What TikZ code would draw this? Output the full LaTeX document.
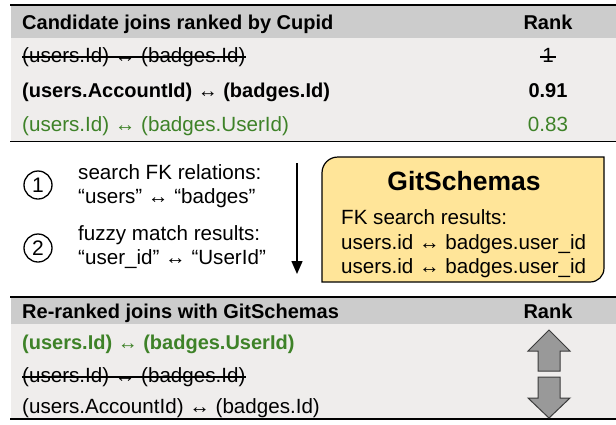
\documentclass[tikz,border=0pt]{standalone}
\usepackage{fontspec}
\setmainfont{Liberation Sans}
\usetikzlibrary{arrows.meta}
\definecolor{hdr}{RGB}{204,204,204}
\definecolor{bodybg}{RGB}{239,237,236}
\definecolor{grn}{RGB}{62,130,40}
\definecolor{boxfill}{RGB}{255,229,153}
\definecolor{arrfill}{RGB}{153,153,153}
\definecolor{arrline}{RGB}{60,60,60}
\newcommand{\rowfont}{\fontsize{20.6}{24}\selectfont}
\newcommand{\hdrfont}{\bfseries\fontsize{20}{24}\selectfont}
\begin{document}
\begin{tikzpicture}[x=1pt,y=-1pt,
  txt/.style={inner sep=0pt, anchor=west, font=\rowfont, text height=14.5pt, text depth=0pt},
  rk/.style={inner sep=0pt, anchor=center, font=\rowfont, text height=14.5pt, text depth=0pt},
  strike/.style={line width=1.2pt, black},
  num/.style={circle, draw, line width=1.3pt, minimum size=28pt, inner sep=0pt, font=\fontsize{21}{24}\selectfont},
  bigarrow/.style={fill=arrfill, draw=arrline, line width=1pt, line join=miter}]
\useasboundingbox (0,0) rectangle (616,424);
% ---------- top table
\fill[hdr] (11,6) rectangle (616,38);
\fill[bodybg] (11,38) rectangle (616,141);
\draw[line width=2.2pt] (10,5) -- (616,5);
\draw[line width=1.6pt] (10,141.5) -- (616,141.5);
\node[txt, font=\hdrfont] (h1) at (22,22) {Candidate joins ranked by Cupid};
\node[rk, font=\hdrfont] (r1) at (548,22) {Rank};
\node[txt] (t1) at (22,55) {(users.Id) ↔ (badges.Id)};
\node[rk] (v1) at (548,55) {1};
\draw[strike] ([yshift=-2pt]t1.west) -- ([yshift=-2pt]t1.east);
\draw[strike] ([yshift=-2pt,xshift=-2pt]v1.west) -- ([yshift=-2pt,xshift=2pt]v1.east);
\node[txt, font=\hdrfont] (t2) at (22,90) {(users.AccountId) ↔ (badges.Id)};
\node[rk, font=\hdrfont] (v2) at (548,90) {0.91};
\node[txt, text=grn] (t3) at (22,124) {(users.Id) ↔ (badges.UserId)};
\node[rk, text=grn] (v3) at (548,124) {0.83};
% ---------- middle
\node[num] (c1) at (38,185) {1};
\node[num] (c2) at (38,248) {2};
\node[txt] (s1) at (78,172) {search FK relations:};
\node[txt] (s2) at (78,196) {“users” ↔ “badges”};
\node[txt] (s3) at (78,233) {fuzzy match results:};
\node[txt] (s4) at (78,257) {“user\_id” ↔ “UserId”};
\coordinate (at) at (297,163);
\coordinate (ab) at (297,274);
\draw[line width=1.5pt, -{Triangle[length=13pt,width=11pt]}] (at) -- (ab);
\draw[fill=boxfill, line width=1.2pt] (322,282) -- (322,173) .. controls (322,164) and (329,157) .. (338,157) -- (604,157) -- (604,268) .. controls (604,276) and (598,282) .. (590,282) -- cycle;
\node[inner sep=0pt, font=\bfseries\fontsize{26.5}{30}\selectfont, text height=19pt, text depth=0pt] (gs) at (464,180.5) {GitSchemas};
\node[txt] (f1) at (341,217) {FK search results:};
\node[txt] (f2) at (341,242) {users.id ↔ badges.user\_id};
\node[txt] (f3) at (341,266) {users.id ↔ badges.user\_id};
% ---------- bottom table
\fill[hdr] (11,298) rectangle (616,324);
\fill[bodybg] (11,324) rectangle (616,418);
\draw[line width=2pt] (10,297) -- (616,297);
\draw[line width=1.6pt] (10,419) -- (616,419);
\node[txt, font=\hdrfont] (h2) at (22,311) {Re-ranked joins with GitSchemas};
\node[rk, font=\hdrfont] (r2) at (548,311) {Rank};
\node[txt, text=grn, font=\hdrfont] (b1) at (22,342) {(users.Id) ↔ (badges.UserId)};
\node[txt] (b2) at (22,375) {(users.Id) ↔ (badges.Id)};
\draw[strike] ([yshift=-2pt]b2.west) -- ([yshift=-2pt]b2.east);
\node[txt] (b3) at (22,406) {(users.AccountId) ↔ (badges.Id)};
\draw[bigarrow] (549,330) -- (570,351) -- (560,351) -- (560,371) -- (538,371) -- (538,351) -- (528,351) -- cycle;
\draw[bigarrow] (538,377) -- (560,377) -- (560,398) -- (570,398) -- (549,418) -- (528,398) -- (538,398) -- cycle;
\end{tikzpicture}
\end{document}
